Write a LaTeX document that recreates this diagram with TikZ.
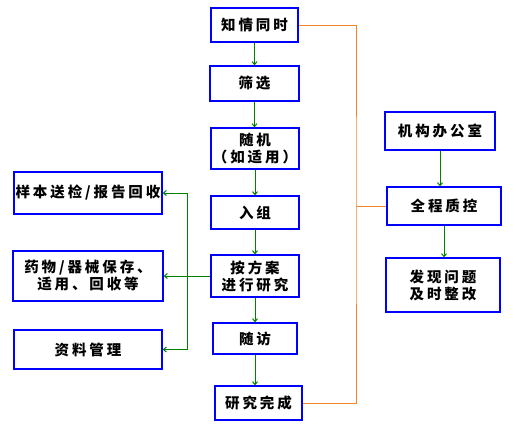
\documentclass[tikz,border=0pt]{standalone}
\usepackage{fontspec}
\usepackage{xcolor}
\newfontfamily\cjkfont{Noto Sans CJK SC}[LetterSpace=20]
\usetikzlibrary{arrows.meta,positioning}

\definecolor{boxblue}{RGB}{0,0,255}
\definecolor{flowgreen}{RGB}{0,128,0}
\definecolor{qcorange}{RGB}{242,132,40}

\begin{document}
\begin{tikzpicture}[
  x=1pt, y=-1pt,
  font=\cjkfont\bfseries\fontsize{14.5pt}{17pt}\selectfont,
  box/.style={draw=boxblue, line width=1.3pt, fill=white,
              align=center, inner sep=0pt},
  flow/.style={-{Straight Barb[length=3pt,width=5pt]}, line width=1pt, draw=flowgreen},
  qcline/.style={line width=1pt, draw=qcorange}
]
\useasboundingbox (0,0) rectangle (518,432);

% ==================== Main chain ====================
\node[box, minimum width=87pt, minimum height=34pt] (consent) at (254.5, 25)  {知情同时};
\node[box, minimum width=89pt, minimum height=35pt] (screen)  at (254.5, 83.5) {筛选};
\node[box, minimum width=88pt, minimum height=41pt] (random)  at (255, 148.5)  {随机\\（如适用）};
\node[box, minimum width=88pt, minimum height=33pt] (enroll)  at (255, 212.5)  {入组};
\node[box, minimum width=88pt, minimum height=42pt] (conduct) at (255, 276)    {按方案\\进行研究};
\node[box, minimum width=84pt, minimum height=31pt] (visit)   at (255, 338.5)  {随访};
\node[box, minimum width=87pt, minimum height=34pt] (finish)  at (258.5, 403)  {研究完成};

% ==================== Left branch ====================
\node[box, minimum width=148pt, minimum height=42pt] (sample) at (88, 193)   {样本送检/报告回收};
\node[box, minimum width=150pt, minimum height=50pt] (drug)   at (88, 276)   {药物/器械保存、\\适用、回收等};
\node[box, minimum width=148pt, minimum height=39pt] (docs)   at (88, 349.5) {资料管理};

% ==================== Right branch ====================
\node[box, minimum width=110pt, minimum height=38pt] (office) at (440, 131) {机构办公室};
\node[box, minimum width=114pt, minimum height=38pt] (qc)     at (444, 206) {全程质控};
\node[box, minimum width=114pt, minimum height=54pt] (fix)    at (443, 285) {发现问题\\及时整改};

% ==================== Flow arrows ====================
\draw[flow] (consent.south) -- (consent.south |- screen.north);
\draw[flow] (screen.south)  -- (screen.south |- random.north);
\draw[flow] (random.south)  -- (random.south |- enroll.north);
\draw[flow] (enroll.south)  -- (enroll.south |- conduct.north);
\draw[flow] (conduct.south) -- (conduct.south |- visit.north);
\draw[flow] (visit.south)   -- (visit.south |- finish.north);

% branch to the left
\coordinate (bus) at (187, 276);
\draw[flow] (conduct.west) -- (drug.east);
\draw[flow] (bus) |- (sample.east);
\draw[flow] (bus) |- (docs.east);

% quality control
\draw[flow] (office.south) -- (office.south |- qc.north);
\draw[flow] (qc.south) -- (qc.south |- fix.north);

% ==================== Quality loop ====================
\coordinate (rail) at (356, 206);
\draw[qcline] (consent.east) -| (rail) |- (finish.east);
\draw[qcline] (rail) -- (qc.west);

\end{tikzpicture}
\end{document}
